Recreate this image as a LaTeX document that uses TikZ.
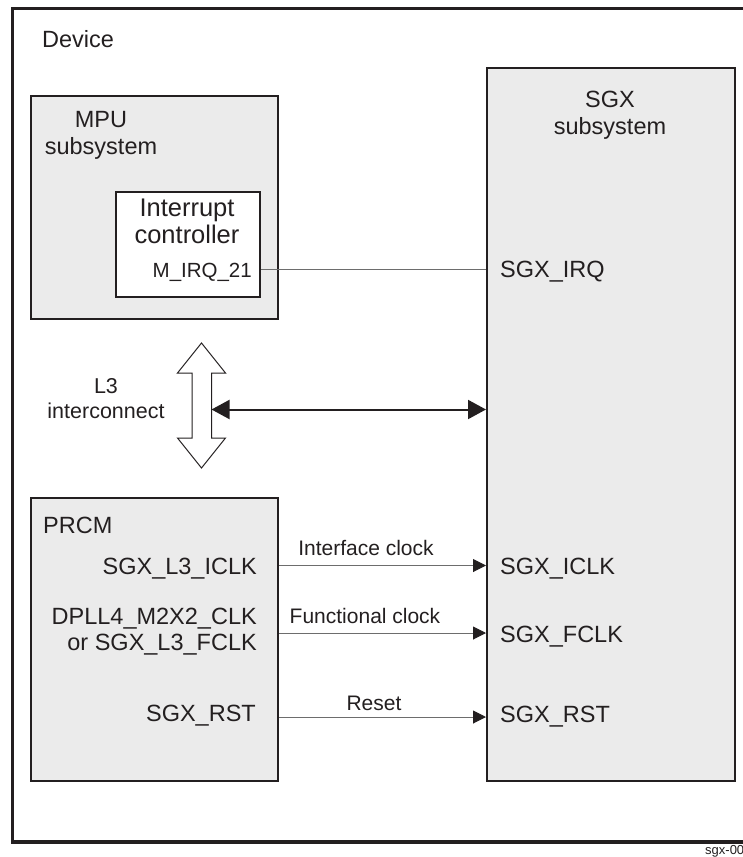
\documentclass[tikz,border=0pt]{standalone}
\usepackage{fontspec}
\setmainfont{Liberation Sans}
\usetikzlibrary{arrows.meta}
\definecolor{ink}{HTML}{231F20}
\definecolor{boxfill}{HTML}{EBEBEB}
\definecolor{wire}{HTML}{6D6D6D}
\begin{document}
\begin{tikzpicture}[x=1pt,y=-1pt,
  box/.style={draw=ink,line width=2pt,fill=boxfill,inner sep=0pt,anchor=north west},
  wbox/.style={box,fill=white},
  txt/.style={inner sep=0pt,font=\fontsize{23.5}{27}\selectfont,text=ink},
  ictxt/.style={inner sep=0pt,font=\fontsize{25.5}{29}\selectfont,text=ink},
  lbl/.style={inner sep=0pt,font=\fontsize{21}{25}\selectfont,text=ink},
  tiny/.style={inner sep=0pt,font=\fontsize{13}{15}\selectfont,text=ink},
  wire/.style={draw=wire,line width=1pt},
  sig/.style={wire,-{Triangle[length=13pt,width=13pt,color=ink]}},
  bus/.style={draw=ink,line width=2pt,{Triangle[length=18pt,width=19pt]}-{Triangle[length=18pt,width=19pt]}},
  blockarrow/.style={draw=ink,line width=1pt,fill=white,line join=miter}
]
\useasboundingbox (0,0) rectangle (742,857);
% outer device frame
\node[draw=ink,line width=2.5pt,inner sep=0pt,anchor=north west,minimum width=760pt,minimum height=833pt] (dev) at (11,7) {};
\draw[ink,line width=3.5pt] (dev.south west) -- (dev.south east);
\node[txt,anchor=base west] (devT) at (42,47) {Device};

% boxes
\node[box,minimum width=247pt,minimum height=223pt] (mpu) at (30,95) {};
\node[wbox,minimum width=144pt,minimum height=105pt] (ic) at (115,191) {};
\node[box,minimum width=248pt,minimum height=713pt] (sgx) at (486,67) {};
\node[box,minimum width=247pt,minimum height=283pt] (prcm) at (30,497) {};

% MPU texts
\node[txt,anchor=base] (mpuA) at (101,127) {MPU};
\node[txt,anchor=base] (mpuB) at (101,154) {subsystem};
\node[ictxt,anchor=base] (icA) at (187,216) {Interrupt};
\node[ictxt,anchor=base] (icB) at (187,243) {controller};
\node[lbl,anchor=base east,font=\fontsize{20.5}{24}\selectfont] (irq) at (252,277) {M\_IRQ\_21};

% SGX texts
\node[txt,anchor=base] (sgxA) at (610,107) {SGX};
\node[txt,anchor=base] (sgxB) at (610,134) {subsystem};
\node[txt,anchor=base west] (sgxirq) at (500,277) {SGX\_IRQ};
\node[txt,anchor=base west] (sgxiclk) at (500,574) {SGX\_ICLK};
\node[txt,anchor=base west] (sgxfclk) at (500,642) {SGX\_FCLK};
\node[txt,anchor=base west] (sgxrst) at (500,722) {SGX\_RST};

% L3 interconnect
\node[lbl,anchor=base,font=\fontsize{21.5}{25}\selectfont] (l3A) at (106,393) {L3};
\node[lbl,anchor=base,font=\fontsize{21.5}{25}\selectfont] (l3B) at (106,418) {interconnect};
\draw[blockarrow] (201.5,343) -- (225.5,373) -- (211.5,373) -- (211.5,438) -- (225.5,438)
  -- (201.5,468) -- (177.5,438) -- (192,438) -- (192,373) -- (177.5,373) -- cycle;

% PRCM texts
\node[txt,anchor=base west] (prcmT) at (43,533) {PRCM};
\node[txt,anchor=base east] (iclk) at (257,574) {SGX\_L3\_ICLK};
\node[txt,anchor=base east] (fclkA) at (257,624) {DPLL4\_M2X2\_CLK};
\node[txt,anchor=base east] (fclkB) at (257,650) {or SGX\_L3\_FCLK};
\node[txt,anchor=base east] (rst) at (256,721.5) {SGX\_RST};

% connectors
\coordinate (yirq) at (0,269);
\coordinate (yl3) at (211.5,409.5);
\coordinate (yiclk) at (0,565.5);
\coordinate (yfclk) at (0,633);
\coordinate (yrst) at (0,717);
\draw[wire] (ic.east |- yirq) -- (sgx.west |- yirq);
\draw[bus] (yl3) -- (sgx.west |- yl3);
\draw[sig] (prcm.east |- yiclk) -- (sgx.west |- yiclk);
\draw[sig] (prcm.east |- yfclk) -- (sgx.west |- yfclk);
\draw[sig] (prcm.east |- yrst) -- (sgx.west |- yrst);
\node[lbl,anchor=base] (lblI) at (366,555) {Interface clock};
\node[lbl,anchor=base] (lblF) at (365,623) {Functional clock};
\node[lbl,anchor=base] (lblR) at (374,710) {Reset};

\node[tiny,anchor=base west] (fig) at (705,854) {sgx-00};
\end{tikzpicture}
\end{document}
